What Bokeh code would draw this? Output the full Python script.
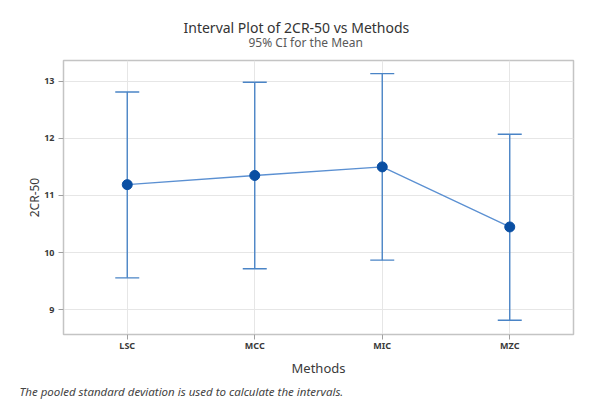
from bokeh.plotting import figure
from bokeh.models import (ColumnDataSource, Whisker, TeeHead, FactorRange, Range1d,
                          FixedTicker, Title)
from bokeh.embed import file_html
from bokeh.resources import INLINE

methods = ["LSC", "MCC", "MIC", "MZC"]
means = [11.19, 11.35, 11.50, 10.45]
lower = [9.56, 9.72, 9.87, 8.82]
upper = [12.81, 12.98, 13.13, 12.07]
y_ticks = [9, 10, 11, 12, 13]

FONT = "Noto Sans"
W, H = 595, 400
FL, FR, FT, FB = 63, 573, 60, 336  # frame edges on the page

src = ColumnDataSource(dict(m=methods, mean=means, lo=lower, hi=upper))

p = figure(width=W, height=H, output_backend="svg", toolbar_location=None,
           x_range=FactorRange(factors=methods, range_padding=0),
           y_range=Range1d(8.57, 13.36),
           min_border_left=FL, min_border_right=W - FR, min_border_top=FT,
           min_border_bottom=H - FB)
p.title = None
p.background_fill_color = "white"
p.border_fill_color = "white"
p.outline_line_color = "#c4c4c4"
p.outline_line_width = 1.5

p.xgrid.grid_line_color = "#e6e6e6"
p.ygrid.grid_line_color = "#e6e6e6"
p.yaxis.ticker = FixedTicker(ticks=y_ticks)

for ax in (p.xaxis[0], p.yaxis[0]):
    ax.axis_line_color = None
    ax.major_tick_in = 0
    ax.major_tick_out = 5
    ax.major_tick_line_color = "#a0a0a0"
    ax.minor_tick_line_color = None
    ax.major_label_text_font = FONT
    ax.major_label_text_font_size = "9px"
    ax.major_label_text_font_style = "bold"
    ax.major_label_text_color = "#3a3a3a"
    ax.axis_label_text_font = FONT
    ax.axis_label_text_font_style = "normal"
    ax.axis_label_text_color = "#3a3a3a"

p.yaxis.major_label_standoff = 4
p.xaxis.major_label_standoff = -1
p.yaxis.axis_label = "2CR-50"
p.yaxis.axis_label_text_font_size = "12px"
p.yaxis.axis_label_standoff = -2
p.xaxis.axis_label = "Methods"
p.xaxis.axis_label_text_font_size = "13px"
p.xaxis.axis_label_standoff = 4

err_col = "#4a84c6"
w = Whisker(source=src, base="m", lower="lo", upper="hi",
            line_color=err_col, line_width=1.4,
            upper_head=TeeHead(size=24, line_color=err_col, line_width=1.4),
            lower_head=TeeHead(size=24, line_color=err_col, line_width=1.4))
p.add_layout(w)

p.line(x="m", y="mean", source=src, line_color="#5b90d2", line_width=1.3)
p.scatter(x="m", y="mean", source=src, size=10, fill_color="#0a4fa3", line_color="#0a4fa3")

# subtitle (nearest the frame), then the main title pulled down onto it
p.add_layout(Title(text="95% CI for the Mean", align="left", offset=248 - FL,
                   vertical_align="top", standoff=16,
                   text_font=FONT, text_font_size="12px", text_font_style="normal",
                   text_color="#595959"), "above")
p.add_layout(Title(text="Interval Plot of 2CR-50 vs Methods", align="left", offset=183 - FL,
                   vertical_align="bottom", standoff=-22,
                   text_font=FONT, text_font_size="14px", text_font_style="normal",
                   text_color="#333333"), "above")
p.add_layout(Title(text="The pooled standard deviation is used to calculate the intervals.",
                   align="left", offset=19 - FL, vertical_align="bottom", standoff=4,
                   text_font=FONT, text_font_size="11.5px", text_font_style="italic",
                   text_color="#444444"), "below")

open("out.html", "w").write(file_html(p, INLINE))
